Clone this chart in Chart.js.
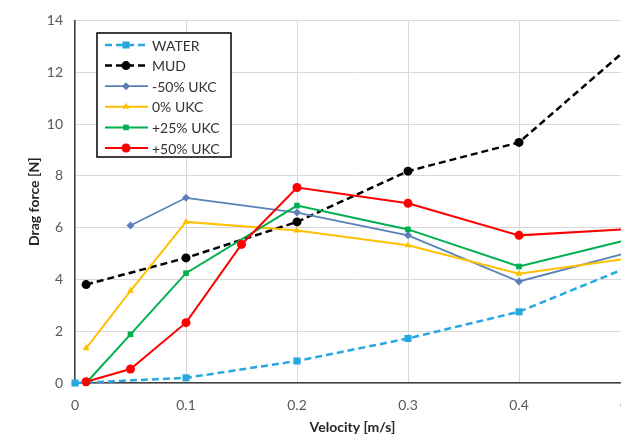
<!DOCTYPE html>
<html>
<head>
<meta charset="utf-8">
<script src="https://cdn.jsdelivr.net/npm/chart.js@4/dist/chart.umd.min.js"></script>
<style>
  html, body { margin: 0; padding: 0; background: #fff; overflow: hidden; }
  #wrap { width: 660px; height: 436px; }
</style>
</head>
<body>
<div id="wrap"><canvas id="output" width="660" height="436"></canvas></div>
<script>
// velocity [m/s] and drag force [N] per test case
const waterV = [0, 0.1, 0.2, 0.3, 0.4, 0.5]
const waterF = [0, 0.2, 0.85, 1.72, 2.75, 4.5]
const mudV = [0.01, 0.1, 0.2, 0.3, 0.4, 0.5]
const mudF = [3.8, 4.83, 6.22, 8.18, 9.29, 13.0]
const ukcMinus50V = [0.05, 0.1, 0.2, 0.3, 0.4, 0.5]
const ukcMinus50F = [6.08, 7.15, 6.58, 5.7, 3.92, 5.05]
const ukc0V = [0.01, 0.05, 0.1, 0.2, 0.3, 0.4, 0.5]
const ukc0F = [1.34, 3.56, 6.22, 5.89, 5.32, 4.22, 4.82]
const ukc25V = [0.01, 0.05, 0.1, 0.2, 0.3, 0.4, 0.5]
const ukc25F = [0, 1.88, 4.24, 6.85, 5.93, 4.5, 5.55]
const ukc50V = [0.01, 0.05, 0.1, 0.15, 0.2, 0.3, 0.4, 0.5]
const ukc50F = [0.05, 0.54, 2.33, 5.35, 7.55, 6.94, 5.7, 5.95]

const xTicks = [0, 0.1, 0.2, 0.3, 0.4, 0.5]

function pts (xs, ys) {
  return xs.map(function (x, i) { return { x: x, y: ys[i] } })
}

function series (label, xs, ys, color, style, radius, width, dash) {
  return {
    label: label,
    data: pts(xs, ys),
    borderColor: color,
    backgroundColor: color,
    pointStyle: style,
    pointRadius: radius,
    pointHoverRadius: radius,
    pointBorderWidth: 0,
    borderWidth: width,
    borderDash: dash || [],
    tension: 0,
    fill: false,
    clip: false
  }
}

let datasets = [
  series('WATER', waterV, waterF, '#29a8e0', 'rect', 5, 2.5, [7, 4]),
  series('MUD', mudV, mudF, '#000000', 'circle', 4.5, 2.5, [7, 4]),
  series('-50% UKC', ukcMinus50V, ukcMinus50F, '#5b80b8', 'rectRot', 4, 1.8),
  series('0% UKC', ukc0V, ukc0F, '#ffc000', 'triangle', 4, 2),
  series('+25% UKC', ukc25V, ukc25F, '#00b050', 'rect', 4, 2),
  series('+50% UKC', ukc50V, ukc50F, '#ff0000', 'circle', 4.5, 2)
]
// later series sit on top of earlier ones
datasets.forEach(function (ds, i) { ds.order = datasets.length - i })

// boxed legend drawn inside the plot area, line sample + marker per series
const boxLegend = {
  id: 'boxLegend',
  afterDatasetsDraw: function (chart) {
    const ctx = chart.ctx
    const x0 = 97, y0 = 33, w = 134, h = 124
    ctx.save()
    ctx.fillStyle = '#ffffff'
    ctx.fillRect(x0, y0, w, h)
    ctx.strokeStyle = '#000000'
    ctx.lineWidth = 1.5
    ctx.strokeRect(x0, y0, w, h)
    ctx.font = '14px Lato'
    ctx.textBaseline = 'middle'
    chart.data.datasets.forEach(function (ds, i) {
      const y = 45 + i * 20.6
      ctx.strokeStyle = ds.borderColor
      ctx.lineWidth = ds.borderWidth
      ctx.setLineDash(ds.borderDash)
      ctx.beginPath()
      ctx.moveTo(105, y)
      ctx.lineTo(148, y)
      ctx.stroke()
      ctx.setLineDash([])
      ctx.fillStyle = ds.backgroundColor
      Chart.helpers.drawPoint(ctx, {
        pointStyle: ds.pointStyle,
        radius: ds.pointRadius,
        borderWidth: 0,
        rotation: 0
      }, 126, y)
      ctx.fillStyle = '#333333'
      ctx.fillText(ds.label, 152, y + 1)
    })
    ctx.restore()
  }
}

var ctx = document.getElementById('output').getContext('2d')
var myChart = new Chart(ctx, {
  type: 'line',
  data: { datasets: datasets },
  plugins: [boxLegend],
  options: {
    responsive: false,
    animation: false,
    layout: { padding: { top: 17, right: 30, left: 0, bottom: 0 } },
    plugins: {
      legend: { display: false },
      tooltip: { enabled: false }
    },
    scales: {
      x: {
        type: 'linear',
        min: 0,
        max: 0.5,
        afterBuildTicks: function (scale) {
          scale.ticks = xTicks.map(function (v) { return { value: v } })
        },
        afterFit: function (scale) { scale.height = 53 },
        ticks: {
          color: '#595959',
          font: { family: 'Lato', size: 14 },
          padding: 14,
          maxRotation: 0,
          callback: function (v) { return String(Math.round(v * 10) / 10) }
        },
        grid: { color: '#d9d9d9', lineWidth: 1, drawTicks: false },
        border: { color: '#404040', width: 1.5 },
        title: {
          display: true,
          text: 'Velocity [m/s]',
          color: '#262626',
          font: { family: 'Lato', size: 14, weight: 'bold' },
          padding: { top: 0, bottom: 0 }
        }
      },
      y: {
        min: 0,
        max: 14,
        afterFit: function (scale) { scale.width = 75 },
        ticks: {
          stepSize: 2,
          color: '#595959',
          font: { family: 'Lato', size: 14 },
          padding: 12
        },
        grid: { color: '#d9d9d9', lineWidth: 1, drawTicks: false },
        border: { color: '#404040', width: 1.5 },
        title: {
          display: true,
          text: 'Drag force [N]',
          color: '#262626',
          font: { family: 'Lato', size: 14, weight: 'bold' },
          padding: { top: 26, bottom: 0 }
        }
      }
    }
  }
})
</script>
</body>
</html>
